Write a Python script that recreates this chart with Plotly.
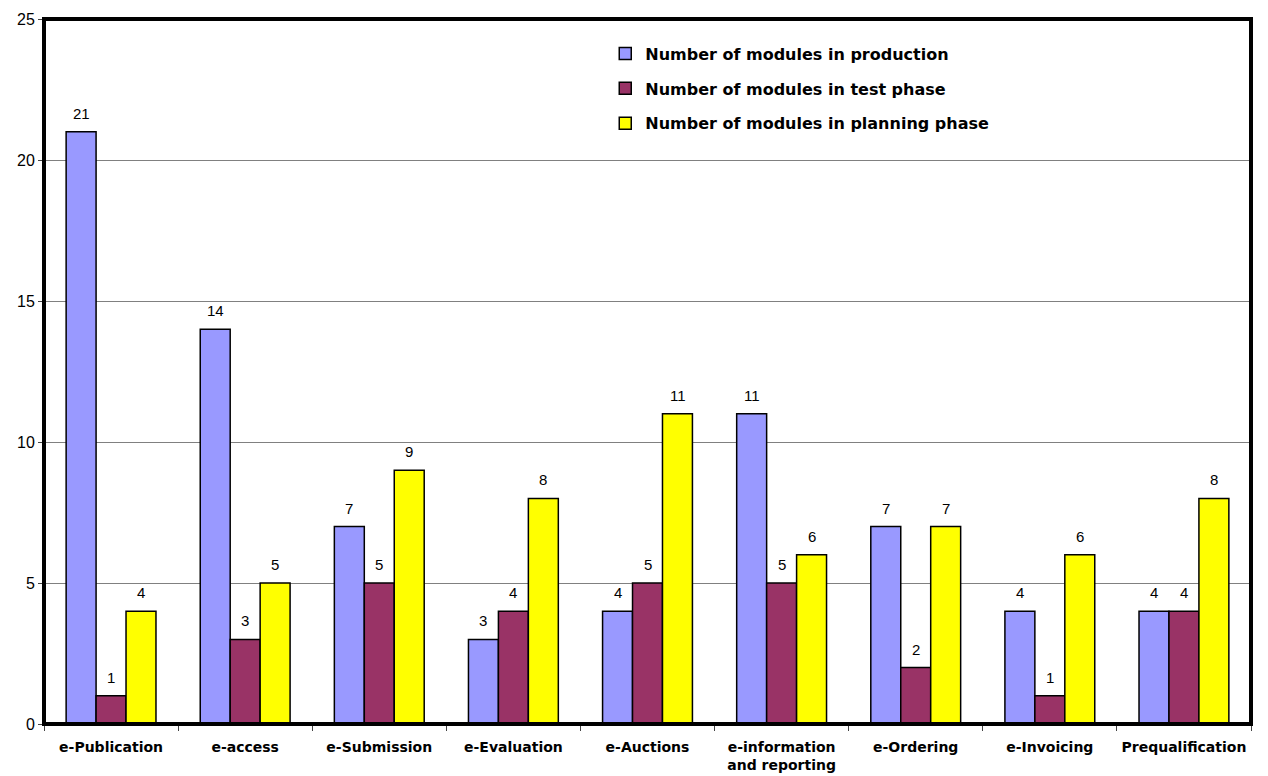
import plotly.graph_objects as go

categories = ["e-Publication", "e-access", "e-Submission", "e-Evaluation", "e-Auctions",
              "e-information<br>and reporting", "e-Ordering", "e-Invoicing", "Prequalification"]
production = [21, 14, 7, 3, 4, 11, 7, 4, 4]
test_phase = [1, 3, 5, 4, 5, 5, 2, 1, 4]
planning_phase = [4, 5, 9, 8, 11, 6, 7, 6, 8]

series = [
    ("Number of modules in production", production, "#9999FF"),
    ("Number of modules in test phase", test_phase, "#993366"),
    ("Number of modules in planning phase", planning_phase, "#FFFF00"),
]

num_font = "Liberation Sans, Arial, sans-serif"
bold_font = "DejaVu Sans, Verdana, sans-serif"

fig = go.Figure()
for i, (name, values, color) in enumerate(series):
    fig.add_trace(go.Bar(
        x=categories, y=values, name=name, legendgroup=f"g{i}",
        marker=dict(color=color, line=dict(color="black", width=1.5)),
    ))

# value labels above each bar, offset to the bar's slot within its group
slot_shift = [-30, 0, 30]
for (name, values, color), dx in zip(series, slot_shift):
    for cat, v in zip(categories, values):
        fig.add_annotation(
            x=cat, y=v, text=str(v), showarrow=False,
            xshift=dx, yshift=8, yanchor="bottom",
            font=dict(size=15, color="black", family=num_font),
        )

fig.update_layout(
    width=1268, height=776,
    margin=dict(l=44, r=17, t=19, b=52),
    paper_bgcolor="white", plot_bgcolor="white",
    barmode="group", bargap=0.33, bargroupgap=0,
    font=dict(family=num_font, color="black"),
    showlegend=True,
    legend=dict(
        x=0.465, y=0.975, xanchor="left", yanchor="top",
        bgcolor="rgba(0,0,0,0)",
        font=dict(size=16, family=bold_font, color="black", weight="bold"),
        tracegroupgap=11, itemwidth=30,
    ),
    xaxis=dict(
        showgrid=False, ticks="outside", tickson="boundaries", ticklen=6,
        tickcolor="#444", tickfont=dict(size=14, family=bold_font, weight="bold"),
        ticklabelstandoff=13, showline=False, automargin=False,
    ),
    yaxis=dict(
        range=[0, 25], dtick=5, showgrid=True, gridcolor="#808080", gridwidth=1,
        ticks="outside", ticklen=5, tickcolor="#444",
        tickfont=dict(size=16, family=num_font),
        zeroline=False, showline=False, automargin=False,
    ),
)

# heavy frame around the plotting area
fig.add_shape(type="rect", xref="paper", yref="paper", x0=0, x1=1, y0=0, y1=1,
              line=dict(color="black", width=4), layer="above")

fig.write_html("out.html")
